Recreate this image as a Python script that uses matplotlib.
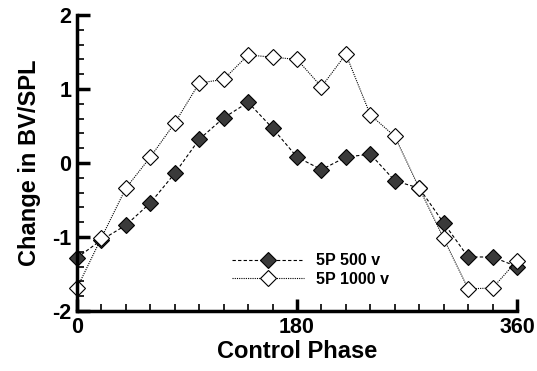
import matplotlib.pyplot as plt
from matplotlib.ticker import MultipleLocator

phase = [0, 20, 40, 60, 80, 100, 120, 140, 160, 180, 200, 220, 240, 260, 280, 300, 320, 340, 360]
v500 = [-1.28, -1.04, -0.84, -0.54, -0.14, 0.32, 0.61, 0.82, 0.47, 0.08, -0.09, 0.08, 0.12, -0.24, -0.34, -0.81, -1.27, -1.27, -1.40]
v1000 = [-1.69, -1.01, -0.34, 0.08, 0.54, 1.08, 1.13, 1.46, 1.43, 1.40, 1.03, 1.47, 0.65, 0.36, -0.34, -1.02, -1.70, -1.69, -1.32]

plt.rcParams["font.family"] = ["Liberation Sans", "DejaVu Sans"]
plt.rcParams["font.weight"] = "bold"
plt.rcParams["axes.unicode_minus"] = False

fig = plt.figure(figsize=(5.37, 3.71), dpi=100)
ax = fig.add_axes([0.1434, 0.1617, 0.8194, 0.7979])

ax.plot(phase, v500, color="black", lw=0.8, linestyle=(0, (3, 2)),
        marker="D", ms=8.5, mfc="#3a3a3a", mec="black", mew=0.8, label="5P 500 v")
ax.plot(phase, v1000, color="black", lw=0.8, linestyle=(0, (1, 1)),
        marker="D", ms=8.5, mfc="white", mec="black", mew=0.8, label="5P 1000 v")

ax.set_xlim(0, 360)
ax.set_ylim(-2, 2)
ax.set_xticks([0, 180, 360])
ax.set_yticks([-2, -1, 0, 1, 2])
ax.xaxis.set_minor_locator(MultipleLocator(20))
ax.yaxis.set_minor_locator(MultipleLocator(0.2))
ax.tick_params(which="major", direction="in", length=9, width=2.5, labelsize=15.5, pad=4)
ax.tick_params(which="minor", direction="in", length=5, width=1.2)
for lab in ax.get_xticklabels() + ax.get_yticklabels():
    lab.set_fontweight("bold")

for s in ["top", "right"]:
    ax.spines[s].set_visible(False)
for s in ["left", "bottom"]:
    ax.spines[s].set_linewidth(2.5)
for ln in ax.lines:
    ln.set_clip_on(False)

ax.set_xlabel("Control Phase", fontsize=17, fontweight="bold", labelpad=2)
ax.set_ylabel("Change in BV/SPL", fontsize=17, fontweight="bold", labelpad=8)

ax.legend(loc="lower left", bbox_to_anchor=(0.32, 0.034), frameon=False,
          handlelength=4.5, handletextpad=0.75, labelspacing=0.2,
          prop={"weight": "bold", "size": 11.5})

fig.savefig("out.png", dpi=100)
